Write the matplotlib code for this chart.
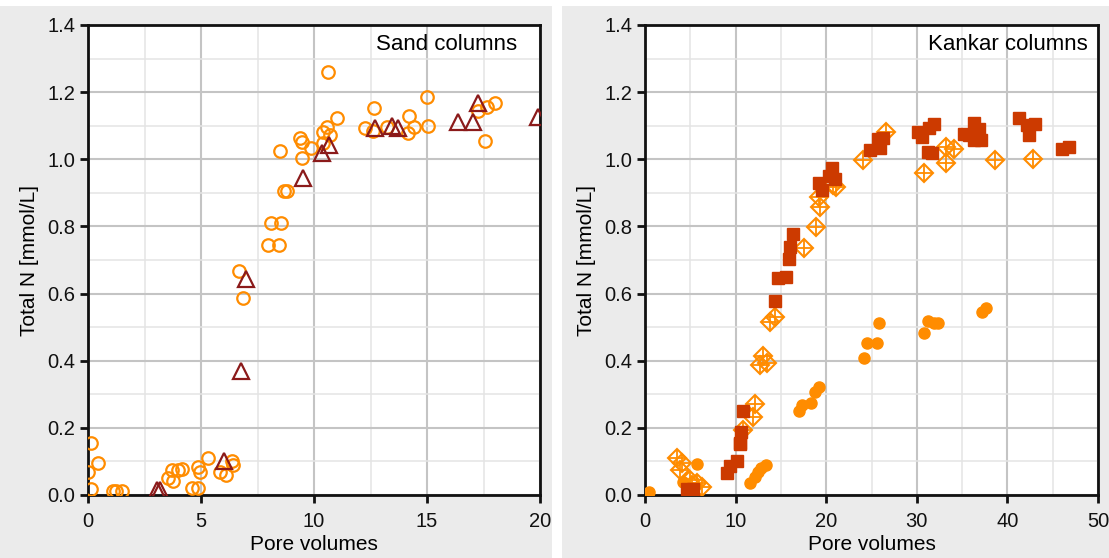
import matplotlib
matplotlib.use("Agg")
import matplotlib.pyplot as plt
from matplotlib.patches import Rectangle
from matplotlib.ticker import MultipleLocator, FormatStrFormatter

plt.rcParams['font.family'] = ['Liberation Sans', 'DejaVu Sans']

# sand columns: open circles
sand_circ_x = [0.0, 0.13, 0.44, 0.15, 1.1, 1.25, 1.5, 3.55, 3.7, 3.75, 3.98, 4.15, 4.59,
               4.87, 4.87, 4.96, 5.32, 5.84, 6.1, 6.36, 6.4, 6.67, 6.84, 7.98, 8.08,
               8.44, 8.55, 8.67, 8.79, 8.5, 9.38, 9.46, 9.49, 9.87, 10.38, 10.41,
               10.59, 10.6, 10.71, 11.0, 12.27, 12.62, 12.64, 13.23, 14.17, 14.19,
               14.44, 15.01, 15.06, 17.24, 17.58, 17.64, 18.0]
sand_circ_y = [0.07, 0.155, 0.095, 0.018, 0.012, 0.012, 0.012, 0.05, 0.074, 0.042,
               0.074, 0.078, 0.02, 0.084, 0.022, 0.07, 0.11, 0.069, 0.06, 0.1, 0.09,
               0.667, 0.588, 0.744, 0.809, 0.745, 0.81, 0.906, 0.906, 1.025, 1.064,
               1.052, 1.003, 1.035, 1.05, 1.082, 1.097, 1.26, 1.072, 1.123, 1.092,
               1.084, 1.154, 1.097, 1.077, 1.128, 1.097, 1.185, 1.1, 1.145, 1.055,
               1.155, 1.169]
# sand columns: open triangles
sand_tri_x = [3.04, 3.2, 6.02, 6.77, 6.99, 9.53, 10.35, 10.68, 12.71, 13.46, 13.73,
              16.37, 17.05, 17.24, 19.9]
sand_tri_y = [0.015, 0.015, 0.1, 0.37, 0.642, 0.944, 1.02, 1.043, 1.092, 1.099, 1.094,
              1.11, 1.11, 1.167, 1.125]

# kankar columns: filled squares
kank_sq_x = [4.66, 5.3, 9.07, 9.36, 10.16, 10.46, 10.54, 10.65, 10.83, 14.35, 14.68,
             15.53, 15.93, 16.05, 16.38, 19.24, 19.57, 20.3, 20.63, 21.0, 24.8, 25.9,
             25.7, 26.25, 30.1, 30.58, 31.4, 31.9, 31.2, 31.68, 35.24, 36.34, 36.9,
             35.8, 36.34, 37.08, 41.3, 42.2, 43.06, 42.33, 46.07, 46.8]
kank_sq_y = [0.017, 0.017, 0.065, 0.086, 0.102, 0.154, 0.152, 0.189, 0.251, 0.579,
             0.647, 0.65, 0.704, 0.74, 0.776, 0.928, 0.909, 0.95, 0.975, 0.942, 1.028,
             1.033, 1.06, 1.062, 1.08, 1.067, 1.092, 1.105, 1.023, 1.018, 1.075, 1.109,
             1.089, 1.072, 1.057, 1.057, 1.122, 1.102, 1.105, 1.072, 1.03, 1.037]
# kankar columns: crossed diamonds
kank_dia_x = [3.49, 4.04, 3.85, 4.96, 5.14, 5.69, 6.24, 10.83, 11.93, 12.15, 12.67,
              13.03, 13.47, 13.77, 14.32, 17.55, 18.83, 19.2, 19.35, 20.8, 21.1, 24.04,
              26.6, 30.84, 33.2, 34.1, 33.2, 38.6, 42.8]
kank_dia_y = [0.109, 0.094, 0.074, 0.045, 0.03, 0.035, 0.025, 0.194, 0.231, 0.27,
              0.387, 0.414, 0.392, 0.516, 0.531, 0.737, 0.797, 0.887, 0.857, 0.924,
              0.918, 0.998, 1.082, 0.96, 1.037, 1.03, 0.99, 0.998, 1.0]
# kankar columns: filled circles
kank_circ_x = [0.47, 4.15, 5.69, 11.56, 12.11, 12.48, 12.85, 13.4, 17.0, 17.29, 18.36,
               18.8, 19.16, 24.15, 24.48, 25.58, 25.88, 30.76, 31.2, 31.94, 32.3,
               37.18, 37.62]
kank_circ_y = [0.008, 0.04, 0.092, 0.035, 0.055, 0.069, 0.079, 0.089, 0.25, 0.267,
               0.273, 0.308, 0.323, 0.407, 0.452, 0.452, 0.511, 0.483, 0.518, 0.511,
               0.511, 0.546, 0.556]

ORANGE = '#ff8c00'
DARKRED = '#8b1a1a'
RUST = '#cc3a00'

W, H = 1109, 558
fig = plt.figure(figsize=(W / 100, H / 100), dpi=100)
fig.patch.set_facecolor('white')
# grey panel backgrounds
fig.patches.append(Rectangle((0, 0), 552 / W, 552 / H, transform=fig.transFigure,
                             facecolor='#ebebeb', edgecolor='none', zorder=-10))
fig.patches.append(Rectangle((562 / W, 0), (W - 562) / W, 552 / H, transform=fig.transFigure,
                             facecolor='#ebebeb', edgecolor='none', zorder=-10))

ax1 = fig.add_axes([88 / W, (H - 495) / H, 452 / W, 470 / H])
ax2 = fig.add_axes([645 / W, (H - 495) / H, 453 / W, 470 / H])


def style(ax, xmax, xmaj):
    ax.set_facecolor('white')
    ax.set_xlim(0, xmax)
    ax.set_ylim(0, 1.4)
    ax.xaxis.set_major_locator(MultipleLocator(xmaj))
    ax.xaxis.set_minor_locator(MultipleLocator(xmaj / 2))
    ax.yaxis.set_major_locator(MultipleLocator(0.2))
    ax.yaxis.set_minor_locator(MultipleLocator(0.1))
    ax.yaxis.set_major_formatter(FormatStrFormatter('%.1f'))
    ax.grid(which='major', color='#c4c4c4', lw=1.5)
    ax.grid(which='minor', color='#e4e4e4', lw=1.1)
    ax.set_axisbelow(True)
    for s in ax.spines.values():
        s.set_linewidth(2)
        s.set_color('#111111')
    ax.tick_params(which='major', direction='out', length=6, width=2, labelsize=14.5,
                   colors='#111111')
    ax.tick_params(axis='x', pad=6)
    ax.tick_params(axis='y', pad=3)
    ax.tick_params(which='minor', length=0)
    ax.set_xlabel('Pore volumes', fontsize=15, labelpad=3)
    ax.set_ylabel('Total N [mmol/L]', fontsize=15, labelpad=6)


style(ax1, 20, 5)
style(ax2, 50, 10)

ax1.plot(sand_circ_x, sand_circ_y, 'o', ms=9, mfc='none', mec=ORANGE, mew=1.6, zorder=3)
ax1.plot(sand_tri_x, sand_tri_y, '^', ms=11, mfc='none', mec=DARKRED, mew=1.6, zorder=4)
ax1.text(0.949, 0.98, 'Sand columns', transform=ax1.transAxes, ha='right', va='top',
         fontsize=16)

ax2.plot(kank_circ_x, kank_circ_y, 'o', ms=8, color=ORANGE, mec=ORANGE, zorder=3)
ax2.plot(kank_dia_x, kank_dia_y, 'D', ms=9, mfc='none', mec=ORANGE, mew=1.5, zorder=4)
ax2.plot(kank_dia_x, kank_dia_y, '+', ms=11, color=ORANGE, mew=1.3, zorder=4)
ax2.plot(kank_sq_x, kank_sq_y, 's', ms=9, color=RUST, mec=RUST, zorder=5)
ax2.text(0.978, 0.98, 'Kankar columns', transform=ax2.transAxes, ha='right', va='top',
         fontsize=16)

fig.savefig('out.png', dpi=100)
